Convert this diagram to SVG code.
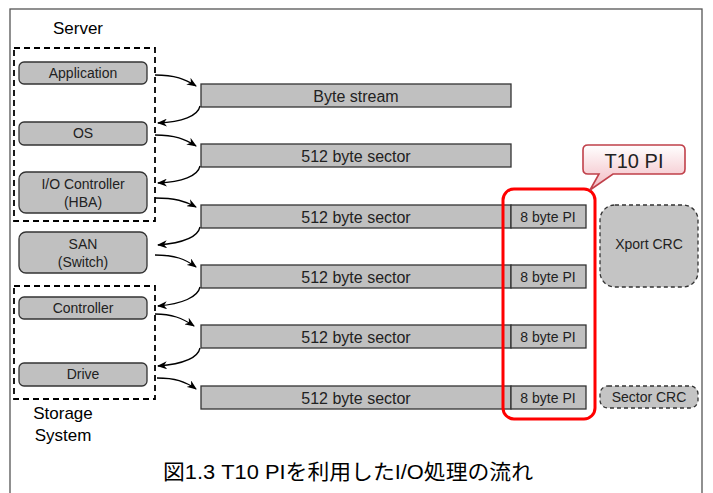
<svg xmlns="http://www.w3.org/2000/svg" width="713" height="493" viewBox="0 0 713 493">
<defs>
<marker id="ah" markerWidth="10" markerHeight="8" refX="9" refY="4" orient="auto" markerUnits="userSpaceOnUse">
<path d="M0,0 L10,4 L0,8 L3,4 Z" fill="#000"/>
</marker>
<linearGradient id="pink" x1="0" y1="0" x2="0" y2="1">
<stop offset="0" stop-color="#ffffff"/>
<stop offset="1" stop-color="#f2b8c0"/>
</linearGradient>
<style>
text{font-family:"Liberation Sans",Arial,sans-serif;fill:#222;text-anchor:middle}
.box{fill:#c0c0c0;stroke:#333;stroke-width:1.3}
.bar{fill:#c0c0c0;stroke:#333;stroke-width:1.3}
.dash{fill:none;stroke:#000;stroke-width:1.8;stroke-dasharray:6,4}
.dbox{fill:#c4c4c4;stroke:#333;stroke-width:1.3;stroke-dasharray:4,3}
.t14{font-size:14px}
.t16{font-size:16px}
.lbl{font-size:17px;fill:#000}
.conn path{fill:none;stroke:#000;stroke-width:1.3;marker-end:url(#ah)}
</style>
</defs>
<rect x="0" y="0" width="713" height="493" fill="#fff"/>
<rect x="10" y="9" width="692" height="500" fill="none" stroke="#555" stroke-width="1.3"/>

<g id="server">
<rect class="dash" x="14" y="48" width="141" height="173"/>
<text class="lbl" x="78" y="34">Server</text>
</g>
<g id="application"><rect class="box" x="19" y="62" width="128" height="22" rx="5"/><text class="t14" x="83" y="78">Application</text></g>
<g id="os"><rect class="box" x="19" y="122" width="128" height="23" rx="5"/><text class="t14" x="83" y="138">OS</text></g>
<g id="ioc"><rect class="box" x="19" y="172" width="128" height="41" rx="7"/><text class="t14" x="83" y="189">I/O Controller</text><text class="t14" x="83" y="207">(HBA)</text></g>
<g id="san"><rect class="box" x="19" y="232" width="128" height="41" rx="7"/><text class="t14" x="83" y="249">SAN</text><text class="t14" x="83" y="267">(Switch)</text></g>
<g id="storage">
<rect class="dash" x="14" y="286" width="141" height="113"/>
<text class="lbl" x="63" y="419">Storage</text>
<text class="lbl" x="63" y="441">System</text>
</g>
<g id="controller"><rect class="box" x="19" y="297" width="128" height="22" rx="5"/><text class="t14" x="83" y="313">Controller</text></g>
<g id="drive"><rect class="box" x="19" y="363" width="128" height="23" rx="5"/><text class="t14" x="83" y="379">Drive</text></g>

<g id="bar1"><rect class="bar" x="201" y="84" width="310" height="23"/><text class="t16" x="356" y="102">Byte stream</text></g>
<g id="bar2"><rect class="bar" x="201" y="144" width="310" height="23"/><text class="t16" x="356" y="162">512 byte sector</text></g>
<g id="bar3"><rect class="bar" x="201" y="205" width="310" height="23"/><text class="t16" x="356" y="223">512 byte sector</text><rect class="bar" x="511" y="205" width="75" height="23"/><text class="t14" x="548" y="222">8 byte PI</text></g>
<g id="bar4"><rect class="bar" x="201" y="265" width="310" height="23"/><text class="t16" x="356" y="283">512 byte sector</text><rect class="bar" x="511" y="265" width="75" height="23"/><text class="t14" x="548" y="282">8 byte PI</text></g>
<g id="bar5"><rect class="bar" x="201" y="325" width="310" height="23"/><text class="t16" x="356" y="343">512 byte sector</text><rect class="bar" x="511" y="325" width="75" height="23"/><text class="t14" x="548" y="342">8 byte PI</text></g>
<g id="bar6"><rect class="bar" x="201" y="386" width="310" height="23"/><text class="t16" x="356" y="404">512 byte sector</text><rect class="bar" x="511" y="386" width="75" height="23"/><text class="t14" x="548" y="403">8 byte PI</text></g>

<g id="xport"><rect class="dbox" x="600" y="205" width="98" height="82" rx="15"/><text class="t14" x="649" y="249">Xport CRC</text></g>
<g id="sectorcrc"><rect class="dbox" x="600" y="386" width="98" height="22" rx="8"/><text class="t14" x="649" y="402">Sector CRC</text></g>

<g id="t10pi">
<rect x="503" y="189" width="92" height="230" rx="11" fill="none" stroke="#f00" stroke-width="3"/>
<path d="M588,145 H680 Q685,145 685,150 V169 Q685,174 680,174 H613 L590,190 L599,174 H588 Q583,174 583,169 V150 Q583,145 588,145 Z" fill="url(#pink)" stroke="#c0404a" stroke-width="1.6"/>
<text x="634" y="168" style="font-size:20px">T10 PI</text>
</g>

<g id="connectors" class="conn">
<path d="M155,75 C175,75 185,79 196,86"/>
<path d="M200,106 C198,116 182,122 158,123"/>
<path d="M155,135 C175,135 185,139 196,146"/>
<path d="M200,166 C198,176 182,182 158,183"/>
<path d="M155,198 C175,198 185,201 196,207"/>
<path d="M200,227 C198,237 182,243 158,245"/>
<path d="M155,255 C175,255 185,259 196,267"/>
<path d="M200,287 C198,297 182,304 158,306"/>
<path d="M155,314 C172,314 182,318 194,326"/>
<path d="M200,348 C198,358 182,364 158,366"/>
<path d="M157,378 C175,378 185,381 196,389"/>
</g>

<text x="348" y="479" textLength="370" lengthAdjust="spacingAndGlyphs" style="font-size:21px;font-family:'Liberation Sans','Noto Sans CJK JP',sans-serif;fill:#000">図1.3 T10 PIを利用したI/O処理の流れ</text>
</svg>
